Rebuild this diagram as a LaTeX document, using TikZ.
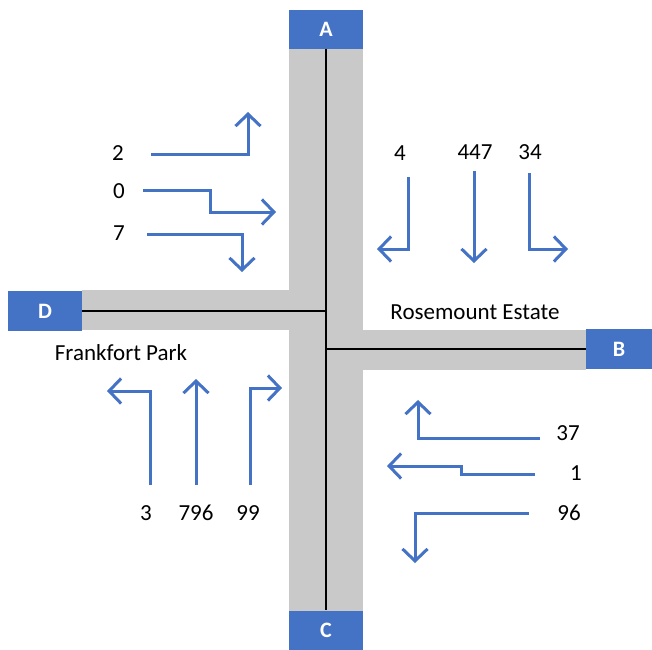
\documentclass[tikz,border=0pt]{standalone}
\usepackage{fontspec}
\setmainfont{Carlito}
\usetikzlibrary{arrows.meta,positioning,calc}
\definecolor{roadblue}{HTML}{4472C4}
\definecolor{roadgrey}{HTML}{C9C9C9}

\begin{document}
\begin{tikzpicture}[
  x=1pt, y=-1pt,
  font=\fontsize{23}{27}\selectfont,
  roadend/.style={rectangle, fill=roadblue, text=white, font=\fontsize{22}{26}\selectfont\bfseries, minimum width=74pt, minimum height=39pt, inner sep=0pt},
  road/.style={fill=roadgrey, draw=none},
  centreline/.style={draw=black, line width=1.4pt},
  count/.style={inner sep=1pt},
  place/.style={inner sep=1pt},
  move/.style={draw=roadblue, line width=3pt, -{Straight Barb[length=12pt, width=25pt]}},
]
\useasboundingbox (0,0) rectangle (652,649);

\fill[road] (289,48) rectangle (363,611);
\fill[road] (82,290) rectangle (289,330);
\fill[road] (363,330) rectangle (586,370);

\node[roadend] (A) at (326,29) {A};
\node[roadend] (C) at (326,630) {C};
\node[roadend, minimum height=40pt] (D) at (45,311) {D};
\node[roadend, minimum width=66pt, minimum height=40pt] (B) at (619,349) {B};

\draw[centreline] (A.south) -- (C.north);
\draw[centreline] (D.east) -- (D.east -| A.south);
\draw[centreline] (B.west) -- (B.west -| A.south);

\node[place] (rosemount) at (475,312) {Rosemount Estate};
\node[place] (frankfort) at (121,353) {Frankfort Park};

\node[count] (w-left) at (118,153) {2};
\node[count] (w-thru) at (119,191) {0};
\node[count] (w-right) at (119,233) {7};
\draw[move] (151,154) -| (248,112);
\draw[move] (143,190) -- (210,190) -- (210,212) -- (276,212);
\draw[move] (147,234) -| (242,272);

\node[count] (n-right) at (400,153) {4};
\node[count] (n-thru) at (475,152) {447};
\node[count] (n-left) at (530,152) {34};
\draw[move] (408,177) |- (377,249);
\draw[move] (474,171) -- (474,263);
\draw[move] (529,173) |- (568,249);

\node[count] (s-left) at (146,513) {3};
\node[count] (s-thru) at (196,513) {796};
\node[count] (s-right) at (248,513) {99};
\draw[move] (150,485) |- (107,391);
\draw[move] (196,485) -- (196,379);
\draw[move] (250,485) |- (282,388);

\node[count] (e-right) at (568,433) {37};
\node[count] (e-thru) at (576,473) {1};
\node[count] (e-left) at (569,513) {96};
\draw[move] (540,438) -| (418,400);
\draw[move] (535,474) -- (461,474) -- (461,466) -- (387,466);
\draw[move] (529,513) -| (415,563);

\end{tikzpicture}
\end{document}
